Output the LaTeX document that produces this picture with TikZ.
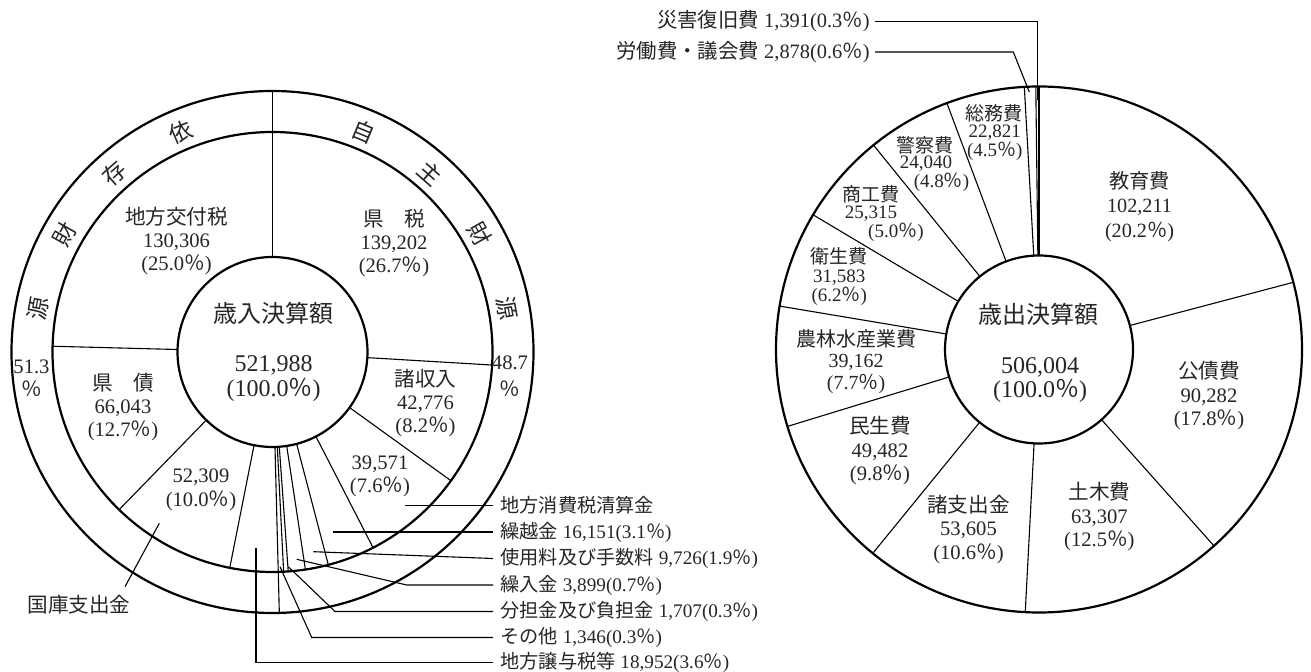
\documentclass[tikz,border=0pt]{standalone}
\usepackage{fontspec}
\setmainfont{Liberation Serif}
\newfontfamily\jpf{Noto Sans CJK JP}
\newcommand\J[1]{{\jpf #1}}
\newcommand\pc{{\jpf ％}}
\begin{document}
\begin{tikzpicture}[x=0.5pt,y=-0.5pt,
  circ/.style={draw=black, line width=1.1pt},
  rad/.style={draw=black, line width=0.55pt},
  lead/.style={draw=black, line width=0.55pt},
  txt/.style={inner sep=0pt, text=black!85},
  lbl/.style={txt, align=center, font=\fontsize{10.3}{11.7}\selectfont},
  lblw/.style={txt, align=center, font=\fontsize{10.1}{12.2}\selectfont},
  lbln/.style={txt, align=center, font=\fontsize{10}{10.8}\selectfont},
  lblt/.style={txt, align=center, font=\fontsize{9.5}{9.6}\selectfont},
  ctr/.style={txt, align=center, font=\fontsize{12}{12.3}\selectfont},
  ringc/.style={txt, font=\fontsize{11.5}{12}\selectfont},
  pct/.style={txt, font=\fontsize{10.3}{11}\selectfont},
  botlbl/.style={txt, anchor=west, inner xsep=3.5pt, font=\fontsize{9.6}{10}\selectfont},
  toplbl/.style={txt, anchor=east, inner xsep=2.5pt, font=\fontsize{10.2}{11}\selectfont}]
\fill[white] (0,0) rectangle (1311,672);
\useasboundingbox (0,0) rectangle (1311,672);

% ---------------- left chart: revenue ----------------
\begin{scope}[shift={(272.5,352)},y=0.5pt]
  \draw[circ] (0,0) circle[radius=95] (0,0) circle[radius=220] (0,0) circle[radius=261];
  \foreach \a in {-3.4,-35.8,-62.8,-75.3,-81.4,-85.9,-87.1,-101.2,-134.2,178.5}
    \draw[rad] (\a:95) -- (\a:220);
  \foreach \a in {90,-88.5}
    \draw[rad] (\a:95) -- (\a:261);
  \foreach \a/\c [count=\i] in {112.5/依,131.5/存,150.5/財,169.5/源,67.5/自,48.5/主,29.5/財,10.5/源}
    \node[ringc,rotate=\a-90] (ring\i) at (\a:238.5) {\J{\c}};
\end{scope}

\node[lbl] (kofu) at (176.5,241) {\J{地方交付税}\\130,306\\(25.0\pc)};
\node[lbl] (kenzei) at (394,243) {\J{県\hspace{1em}税}\\139,202\\(26.7\pc)};
\node[lbl] (kensai) at (123,407) {\J{県\hspace{1em}債}\\66,043\\(12.7\pc)};
\node[lbl] (shosyu) at (425.5,403) {\J{諸収入}\\42,776\\(8.2\pc)};
\node[lbl] (chiho) at (380,476.5) {39,571\\(7.6\pc)};
\node[lbl] (kokko) at (201,490) {52,309\\(10.0\pc)};
\node[ctr] (inT) at (273.5,313) {\J{歳入決算額}};
\node[ctr] (inV) at (273.5,378.5) {521,988\\(100.0\pc)};
\node[pct] (p513) at (31.5,366.7) {51.3};
\node[pct] (p513b) at (31.5,389) {\pc};
\node[pct] (p487) at (510,363.3) {48.7};
\node[pct] (p487b) at (510,388.3) {\pc};

% leader labels (left)
\node[botlbl] (L1) at (493,505.5) {\J{地方消費税清算金}};
\node[botlbl] (L2) at (493,532) {\J{繰越金} 16,151(3.1\pc)};
\node[botlbl] (L3) at (493,558.5) {\J{使用料及び手数料} 9,726(1.9\pc)};
\node[botlbl] (L4) at (493,585) {\J{繰入金} 3,899(0.7\pc)};
\node[botlbl] (L5) at (493,611.5) {\J{分担金及び負担金} 1,707(0.3\pc)};
\node[botlbl] (L6) at (493,637.5) {\J{その他} 1,346(0.3\pc)};
\node[botlbl] (L7) at (493,662.5) {\J{地方譲与税等} 18,952(3.6\pc)};
\coordinate (s1) at (405,505.5);
\coordinate (s2) at (332.7,532);
\coordinate (s3) at (313.3,551.7);
\coordinate (s4) at (296.7,559.3);
\coordinate (c4) at (406.7,585);
\coordinate (s5) at (288.3,566.7);
\coordinate (c5) at (335,611.5);
\coordinate (s6) at (280,566.7);
\coordinate (c6) at (311.7,637.5);
\coordinate (s7) at (256,548);
\draw[lead] (s1) -- (L1.west);
\draw[lead] (s2) -- (L2.west);
\draw[lead] (s3) -- (L3.west);
\draw[lead] (s4) -- (c4) -- (L4.west);
\draw[lead] (s5) -- (c5) -- (L5.west);
\draw[lead] (s6) -- (c6) -- (L6.west);
\draw[lead] (s7) -- (s7 |- L7.west) -- (L7.west);
\node[lbl] (kokkoL) at (79,605) {\J{国庫支出金}};
\coordinate (s8) at (159.3,523.3);
\coordinate (e8) at (125,586.7);
\draw[lead] (s8) -- (e8);

% ---------------- right chart: expenditure ----------------
\begin{scope}[shift={(1039,349.5)},y=0.5pt]
  \draw[circ] (0,0) circle[radius=94] (0,0) circle[radius=263];
  \foreach \a in {90,90.7,93.2,110.5,129,149.2,170.5,-163,-129.2,-93,-48.3,14.8}
    \draw[rad] (\a:94) -- (\a:263);
\end{scope}

\node[ctr] (outT) at (1038.6,314) {\J{歳出決算額}};
\node[ctr] (outV) at (1040,380) {506,004\\(100.0\pc)};
\node[lblw] (kyoiku) at (1139.5,206.3) {\J{教育費}\\102,211\\(20.2\pc)};
\node[lbl] (kosai) at (1209,395.7) {\J{公債費}\\90,282\\(17.8\pc)};
\node[lbl] (doboku) at (1099.4,516.7) {\J{土木費}\\63,307\\(12.5\pc)};
\node[lbl] (shoshi) at (968.5,529.3) {\J{諸支出金}\\53,605\\(10.6\pc)};
\node[lbl] (minsei) at (880,450.7) {\J{民生費}\\49,482\\(9.8\pc)};
\node[lbln] (norin) at (856,361.5) {\J{農林水産業費}\\39,162\\(7.7\pc)};
\node[lblt] (eisei) at (839.3,276.6) {\J{衛生費}\\31,583\\(6.2\pc)};
\node[lblt] (shoko1) at (870.5,194.5) {\J{商工費}};
\node[lblt] (shoko2) at (871,213.5) {25,315};
\node[lblt] (shoko3) at (895.9,232.5) {(5.0\pc)};
\node[lblt] (keisatsu1) at (925.4,145.5) {\J{警察費}};
\node[lblt] (keisatsu2) at (926,163.5) {24,040};
\node[lblt] (keisatsu3) at (941.5,182) {(4.8\pc)};
\node[lblt] (somu1) at (993.9,113.5) {\J{総務費}};
\node[lblt] (somu2) at (994.7,133) {22,821};
\node[lblt] (somu3) at (994.7,151.5) {(4.5\pc)};

\node[toplbl] (saigai) at (875,21.5) {\J{災害復旧費} 1,391(0.3\pc)};
\node[toplbl] (rodo) at (875,52) {\J{労働費・議会費} 2,878(0.6\pc)};
\coordinate (saigaiC) at (1037.3,21.5);
\coordinate (saigaiS) at (1037.3,100);
\coordinate (rodoC) at (1013.3,52);
\coordinate (rodoS) at (1029.3,92);
\draw[lead] (saigai.east) -- (saigaiC) -- (saigaiS);
\draw[lead] (rodo.east) -- (rodoC) -- (rodoS);
\end{tikzpicture}
\end{document}
